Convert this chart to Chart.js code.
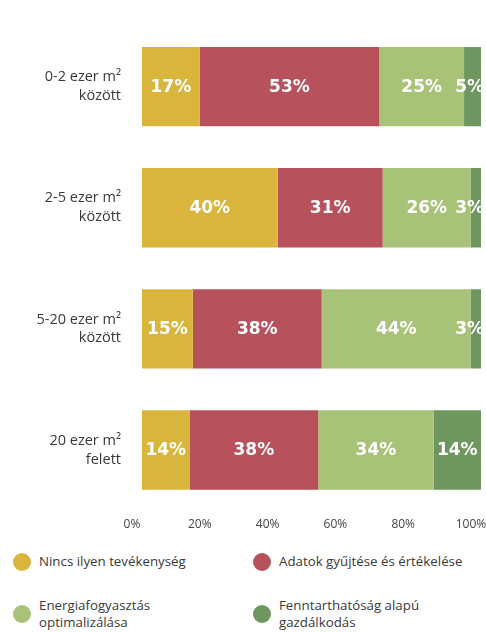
<!DOCTYPE html>
<html lang="hu">
<head>
  <meta charset="UTF-8">
  <title>Tevékenységek épületméret szerint</title>
  <script src="https://cdn.jsdelivr.net/npm/chart.js"></script>
  <style>
    body { margin: 0; background: #fff; font-family: "Open Sans", sans-serif; }
    #wrap { position: relative; width: 486px; height: 632px; overflow: hidden; }
    #chart { position: absolute; left: 0; top: 0; }
    .legend-item { position: absolute; display: flex; align-items: flex-start; font-size: 13.3px; color: #3a3a3a; line-height: 17px; }
    .legend-item .dot { width: 18px; height: 18px; border-radius: 50%; margin-right: 8px; flex: none; }
  </style>
</head>
<body>
  <div id="wrap">
    <canvas id="chart" width="486" height="547"></canvas>
    <div id="legend"></div>
  </div>

  <script>
    const categories = [
      ["0-2 ezer m²", "között"],
      ["2-5 ezer m²", "között"],
      ["5-20 ezer m²", "között"],
      ["20 ezer m²", "felett"]
    ];
    const seriesNames = [
      "Nincs ilyen tevékenység",
      "Adatok gyűjtése és értékelése",
      "Energiafogyasztás optimalizálása",
      "Fenntarthatóság alapú gazdálkodás"
    ];
    const legendLines = [
      ["Nincs ilyen tevékenység"],
      ["Adatok gyűjtése és értékelése"],
      ["Energiafogyasztás", "optimalizálása"],
      ["Fenntarthatóság alapú", "gazdálkodás"]
    ];
    const nincs = [17, 40, 15, 14];
    const adatok = [53, 31, 38, 38];
    const energia = [25, 26, 44, 34];
    const fenntart = [5, 3, 3, 14];
    const xTicks = [0, 20, 40, 60, 80, 100];

    const colors = ["#dab53d", "#b7515b", "#a8c278", "#6e965f"];

    // white percentage labels in the middle of each segment
    const segmentLabels = {
      id: "segmentLabels",
      afterDatasetsDraw(chart) {
        const { ctx, chartArea } = chart;
        ctx.save();
        ctx.font = "bold 17px 'DejaVu Sans'";
        ctx.fillStyle = "#fff";
        ctx.textBaseline = "middle";
        ctx.textAlign = "center";
        chart.data.datasets.forEach((ds, i) => {
          chart.getDatasetMeta(i).data.forEach((bar, j) => {
            const text = ds.data[j] + "%";
            const w = ctx.measureText(text).width;
            let cx = (bar.x + bar.base) / 2;
            if (cx + w / 2 > chartArea.right + 3) cx = chartArea.right + 3 - w / 2;
            ctx.fillText(text, cx, bar.y + 1);
          });
        });
        ctx.restore();
      }
    };

    new Chart(document.getElementById("chart"), {
      type: "bar",
      data: {
        labels: categories,
        datasets: [nincs, adatok, energia, fenntart].map((d, i) => ({
          label: seriesNames[i],
          data: d,
          backgroundColor: colors[i],
          borderWidth: 0,
          categoryPercentage: 1,
          barPercentage: 0.655
        }))
      },
      options: {
        indexAxis: "y",
        responsive: false,
        animation: false,
        devicePixelRatio: 1,
        layout: { padding: { top: 26, right: 5, bottom: 8, left: 0 } },
        plugins: { legend: { display: false }, tooltip: { enabled: false } },
        scales: {
          x: {
            stacked: true,
            min: 0,
            max: 100,
            afterBuildTicks: s => { s.ticks = xTicks.map(v => ({ value: v })); },
            afterFit: s => { s.paddingLeft = 0; s.paddingRight = 0; },
            grid: { display: false, drawTicks: false },
            border: { display: false },
            ticks: {
              padding: 7,
              labelOffset: -10,
              color: "#444",
              font: { family: "Open Sans", size: 12 },
              callback: v => v + "%"
            }
          },
          y: {
            stacked: true,
            grid: { display: false, drawTicks: false },
            border: { display: false },
            afterFit: s => { s.width = 142; s.paddingTop = 0; s.paddingBottom = 0; },
            ticks: {
              padding: 21,
              color: "#3a3a3a",
              font: { family: "Open Sans", size: 14.5, lineHeight: 1.3 }
            }
          }
        }
      },
      plugins: [segmentLabels]
    });

    // two-column legend under the chart
    const legendPos = [[13, 553], [253, 553], [13, 597], [253, 597]];
    const legend = document.getElementById("legend");
    legendLines.forEach((lines, i) => {
      const item = document.createElement("div");
      item.className = "legend-item";
      item.style.left = legendPos[i][0] + "px";
      item.style.top = legendPos[i][1] + "px";
      item.innerHTML = '<span class="dot" style="background:' + colors[i] + (lines.length > 1 ? ';margin-top:8px' : '') + '"></span><span>' + lines.join("<br>") + "</span>";
      legend.appendChild(item);
    });
  </script>
</body>
</html>
